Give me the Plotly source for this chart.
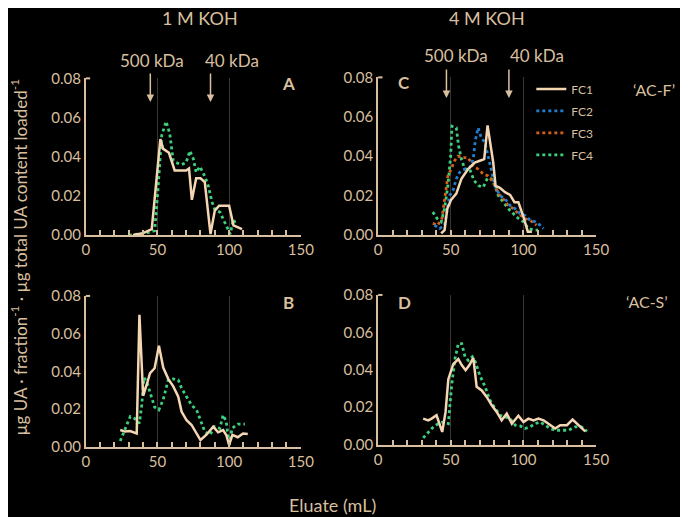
import plotly.graph_objects as go

# panel A (1 M KOH, AC-F)
a_fc1_x = [33, 37, 40, 43, 46, 52, 54, 58, 62, 66, 70, 72, 74, 77, 80, 83, 87, 90, 93, 97, 100, 103, 106, 109]
a_fc1_y = [0.0, 0.0005, 0.001, 0.002, 0.003, 0.049, 0.044, 0.042, 0.033, 0.033, 0.033, 0.034, 0.018, 0.029,
           0.029, 0.027, 0.0005, 0.0125, 0.015, 0.015, 0.015, 0.005, 0.004, 0.003]
a_fc4_x = [30, 37, 44, 48, 50, 53, 56, 58.5, 61, 63, 66.7, 70, 72.6, 75, 77, 79.6, 83, 85.5, 88, 90, 93.7, 97,
           100.7, 103, 105]
a_fc4_y = [0.0, 0.0005, 0.0014, 0.0022, 0.02, 0.051, 0.058, 0.052, 0.038, 0.037, 0.036, 0.037, 0.043, 0.039,
           0.032, 0.035, 0.030, 0.025, 0.017, 0.013, 0.0116, 0.0065, 0.0005, 0.008, 0.005]

# panel B (1 M KOH, AC-S)
b_fc1_x = [24, 27.4, 30.9, 35.5, 37.4, 39, 40, 42.5, 44.8, 48, 51, 54, 57.5, 61, 64.5, 66.8, 70.3, 73.8, 77.3,
           80, 84, 88.9, 92.3, 95.8, 98, 100, 102.3, 106, 109.7, 113]
b_fc1_y = [0.0088, 0.008, 0.0083, 0.007, 0.070, 0.043, 0.027, 0.033, 0.039, 0.0416, 0.0536, 0.042, 0.036, 0.032,
           0.0265, 0.0186, 0.014, 0.0115, 0.007, 0.0035, 0.0062, 0.0106, 0.0076, 0.0088, 0.0062, 0.0009, 0.0062,
           0.005, 0.007, 0.0067]
b_fc4_x = [24, 27.4, 31, 34, 37.4, 39, 40.6, 42.5, 44.8, 48, 51, 54, 57.5, 61, 64.5, 66.8, 70.3, 73.8, 77.3, 80,
           83, 86.5, 90, 93.5, 95.8, 98, 100, 102, 106, 111]
b_fc4_y = [0.003, 0.0097, 0.016, 0.015, 0.0124, 0.022, 0.0366, 0.0345, 0.029, 0.021, 0.0195, 0.025, 0.0354,
           0.036, 0.0354, 0.031, 0.0265, 0.022, 0.0195, 0.014, 0.008, 0.0062, 0.0106, 0.0097, 0.0168, 0.0133,
           0.0004, 0.0097, 0.0119, 0.0119]

# panel C (4 M KOH, AC-F)
c_fc1_x = [43.4, 45.7, 47.6, 50.3, 53.8, 57.3, 61.9, 66.5, 70, 73, 75.3, 76.9, 79.2, 80.8, 83.8, 87.3, 90.8,
           93.8, 96.5, 100, 103, 105.8]
c_fc1_y = [0.0008, 0.0025, 0.0134, 0.018, 0.021, 0.0285, 0.0335, 0.0368, 0.0377, 0.0385, 0.0556, 0.047, 0.0368,
           0.025, 0.024, 0.0218, 0.0204, 0.0167, 0.0167, 0.0092, 0.0017, 0.0017]
c_fc2_x = [38.8, 42.3, 45.7, 47.6, 49.2, 51.5, 53.8, 56, 59.6, 63, 65.4, 67, 68.8, 71, 73.4, 75.7, 78, 80.4,
           83.8, 87.3, 90.8, 94.2, 97.7, 101, 104.6, 108, 111.5, 113.8]
c_fc2_y = [0.005, 0.0033, 0.005, 0.0134, 0.020, 0.0226, 0.0285, 0.0318, 0.0335, 0.0343, 0.0385, 0.0485, 0.0544,
           0.0494, 0.047, 0.040, 0.0318, 0.025, 0.020, 0.0184, 0.015, 0.0134, 0.0109, 0.010, 0.0075, 0.0067,
           0.005, 0.0033]
c_fc3_x = [37.6, 41, 43.9, 46.2, 48, 50.3, 52.6, 54.9, 58.4, 61.9, 65.4, 68.8, 72.3, 75.7, 79.2, 82.7, 86.1,
           89.6, 93, 96.5, 101, 104.6, 109]
c_fc3_y = [0.0059, 0.005, 0.0084, 0.020, 0.030, 0.0335, 0.0377, 0.040, 0.0393, 0.0393, 0.035, 0.0335, 0.031,
           0.030, 0.0268, 0.021, 0.0184, 0.015, 0.0134, 0.0109, 0.0084, 0.0075, 0.005]
c_fc4_x = [37.6, 40.6, 43.4, 45.7, 48, 49.9, 50.8, 53.8, 55.4, 57.3, 59.6, 63, 66, 69.3, 72.3, 75.3, 78, 80.4,
           82.7, 86.1, 89.6, 93, 96.5, 100, 103.5, 107, 110]
c_fc4_y = [0.0117, 0.0084, 0.0067, 0.0134, 0.025, 0.040, 0.0552, 0.0544, 0.045, 0.0385, 0.0335, 0.0335, 0.0276,
           0.025, 0.0243, 0.029, 0.0285, 0.025, 0.020, 0.0167, 0.0134, 0.0109, 0.0084, 0.0067, 0.0033, 0.0025,
           0.0025]

# panel D (4 M KOH, AC-S)
d_fc1_x = [31, 34.5, 36.8, 40.2, 42.5, 44.1, 46.4, 48.3, 51.7, 55.2, 57.5, 60.2, 62.8, 65.5, 67.8, 71.3, 74.7,
           78.2, 81.6, 85, 88.5, 92, 96.5, 100, 103.4, 106.9, 110.3, 113.8, 117.2, 121.8, 125.3, 129.9, 133.8,
           137.9, 142.5]
d_fc1_y = [0.0139, 0.013, 0.0139, 0.0157, 0.0104, 0.0068, 0.0175, 0.035, 0.043, 0.0457, 0.0425, 0.0398, 0.0425,
           0.0464, 0.0309, 0.029, 0.0255, 0.021, 0.0175, 0.013, 0.0166, 0.0112, 0.0154, 0.0121, 0.0139, 0.013,
           0.0139, 0.013, 0.0112, 0.0086, 0.0104, 0.0104, 0.0134, 0.0104, 0.0071]
d_fc4_x = [31, 34.5, 38, 41.4, 44.8, 48.3, 50.6, 52.9, 55.2, 57.5, 59.8, 62, 64.8, 67, 70, 73.6, 77, 80.5, 84,
           87.4, 90.8, 94.3, 97.7, 101, 104.6, 108, 111.5, 115, 118.4, 121.8, 126.4, 131, 135.6, 140, 143.7]
d_fc4_y = [0.0036, 0.0068, 0.0095, 0.0112, 0.0121, 0.0112, 0.0318, 0.046, 0.054, 0.054, 0.047, 0.045, 0.047,
           0.044, 0.037, 0.0309, 0.0237, 0.0193, 0.0157, 0.0148, 0.0139, 0.0104, 0.010, 0.0086, 0.0095, 0.0112,
           0.0121, 0.0104, 0.0086, 0.0077, 0.0077, 0.0077, 0.0095, 0.0095, 0.0071]

# marker positions (mL)
kda_1m = [45, 87]
kda_4m = [47, 90]
kda_labels = ["500 kDa", "40 kDa"]

TAN = "#d8bf9f"
FC1_COL = "#f5d6b2"
FC2_COL = "#1f7fd0"
FC3_COL = "#d0601a"
FC4_COL = "#3dcf7d"
FONT = "Lato"

# the page shows the figure a little inset, so map picture pixels to paper fractions
def fx(px):
    return (px - 12.5) / 668

def fy(py):
    return 1 - (py - 15.5) / 500

fig = go.Figure()

def add_line(x, y, xa, ya, name, color, dash, show):
    fig.add_trace(go.Scatter(x=x, y=y, xaxis=xa, yaxis=ya, mode="lines", name=name, legendgroup=name,
                             line=dict(color=color, width=2.5 if dash == "solid" else 2.8, dash=dash),
                             showlegend=show, hoverinfo="skip"))

add_line(a_fc4_x, a_fc4_y, "x", "y", "FC4", FC4_COL, "dot", False)
add_line(a_fc1_x, a_fc1_y, "x", "y", "FC1", FC1_COL, "solid", False)
add_line(b_fc4_x, b_fc4_y, "x2", "y2", "FC4", FC4_COL, "dot", False)
add_line(b_fc1_x, b_fc1_y, "x2", "y2", "FC1", FC1_COL, "solid", False)
add_line(c_fc4_x, c_fc4_y, "x3", "y3", "FC4", FC4_COL, "dot", False)
add_line(c_fc3_x, c_fc3_y, "x3", "y3", "FC3", FC3_COL, "dot", False)
add_line(c_fc2_x, c_fc2_y, "x3", "y3", "FC2", FC2_COL, "dot", False)
add_line(c_fc1_x, c_fc1_y, "x3", "y3", "FC1", FC1_COL, "solid", True)
# legend entries FC2..FC4 (order FC1..FC4)
for nm, col in [("FC2", FC2_COL), ("FC3", FC3_COL), ("FC4", FC4_COL)]:
    fig.add_trace(go.Scatter(x=[None], y=[None], xaxis="x3", yaxis="y3", mode="lines", name=nm,
                             legendgroup=nm, line=dict(color=col, width=2.8, dash="dot"), showlegend=True))
add_line(d_fc4_x, d_fc4_y, "x4", "y4", "FC4", FC4_COL, "dot", False)
add_line(d_fc1_x, d_fc1_y, "x4", "y4", "FC1", FC1_COL, "solid", False)

xdoms = {"A": [fx(86), fx(300)], "B": [fx(86), fx(300)], "C": [fx(377), fx(594)], "D": [fx(377), fx(594)]}
ydoms = {"A": [fy(233), fy(76)], "B": [fy(445), fy(294)], "C": [fy(233), fy(75)], "D": [fy(443), fy(293)]}
ids = {"A": "", "B": "2", "C": "3", "D": "4"}

for key, s in ids.items():
    fig.update_layout(**{
        "xaxis" + s: dict(domain=xdoms[key], anchor="y" + s, range=[0, 150], tickvals=[0, 50, 100, 150],
                          showline=True, linecolor=TAN, linewidth=2, ticks="inside", ticklen=5,
                          tickcolor=TAN, tickwidth=2, showgrid=True, gridcolor="#3a3434", gridwidth=1,
                          zeroline=False, tickfont=dict(color=TAN, size=15, family=FONT),
                          minor=dict(dtick=10, ticks="inside", ticklen=5, tickcolor=TAN, tickwidth=2,
                                     showgrid=False)),
        "yaxis" + s: dict(domain=ydoms[key], anchor="x" + s, range=[0, 0.08], dtick=0.02, tickformat=".2f",
                          showline=True, linecolor=TAN, linewidth=2, ticks="", showgrid=False,
                          zeroline=False, tickfont=dict(color=TAN, size=15, family=FONT)),
    })
    # small stub at the top of each y axis
    fig.add_shape(type="line", xref="x" + s + " domain", yref="y" + s + " domain",
                  x0=0, x1=0.02, y0=1, y1=1, line=dict(color=TAN, width=2))

ann = []

def label(txt, xp, yp, size, bold=False, angle=0):
    f = dict(color=TAN, size=size, family=FONT)
    if bold:
        f["weight"] = "bold"
    ann.append(dict(text=txt, x=fx(xp), y=fy(yp), xref="paper", yref="paper", showarrow=False,
                    xanchor="center", yanchor="middle", textangle=angle, font=f))

# panel letters
for key, xp, yp in [("A", 288, 81), ("B", 288, 301), ("C", 403, 80), ("D", 403, 301)]:
    label(key, xp, yp, 17, bold=True)

# column titles and AC labels
label("1 M KOH", 200, 15, 18)
label("4 M KOH", 485, 15, 18)
label("\u2018AC-F\u2019", 652, 87, 16)
label("\u2018AC-S\u2019", 645, 300, 16)

# kDa arrows
for xs, xa, ya, ytip in [(kda_1m, "x", "y", 0.068), (kda_4m, "x3", "y3", 0.0695)]:
    for xv in xs:
        ann.append(dict(text="", x=xv, y=ytip, xref=xa, yref=ya, ax=0, ay=-30, showarrow=True,
                        arrowhead=2, arrowsize=1, arrowwidth=1.5, arrowcolor=TAN))
# kDa labels sit a bit right of their arrows
for lab, xp, yp in zip(kda_labels * 2, [152, 232, 455, 535], [58, 58, 53, 53]):
    label(lab, xp, yp, 17)

# axis titles
label("Eluate (mL)", 332, 503, 18)
label("µg UA · fraction<sup>-1</sup> · µg total UA content loaded<sup>-1</sup>", 19, 255, 17, angle=-90)

fig.update_layout(
    width=688, height=517, margin=dict(l=0, r=0, t=0, b=0),
    paper_bgcolor="black", plot_bgcolor="black",
    annotations=ann,
    showlegend=True,
    legend=dict(x=fx(529.5), y=fy(72), xanchor="left", yanchor="top", bgcolor="rgba(0,0,0,0)",
                font=dict(color=TAN, size=12, family=FONT), tracegroupgap=3),
)

fig.write_html("out.html")
